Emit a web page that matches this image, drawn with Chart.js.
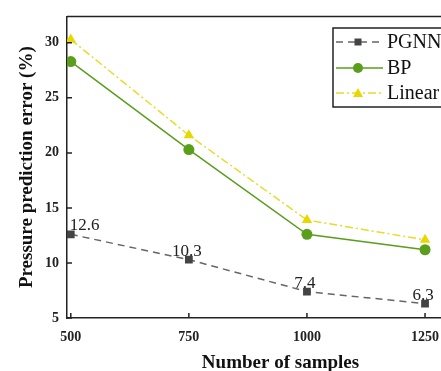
<!DOCTYPE html>
<html>
<head>
<meta charset="utf-8">
<script src="https://cdn.jsdelivr.net/npm/chart.js@4/dist/chart.umd.min.js"></script>
<style>
  html, body { margin: 0; padding: 0; background: #fff; overflow: hidden; }
  #wrap { width: 500px; height: 371px; }
</style>
</head>
<body>
<div id="wrap"><canvas id="grafik" width="500" height="371"></canvas></div>
<script>
// data
const sampleSizes = [500, 750, 1000, 1250];
const pgnnErr = [12.6, 10.3, 7.4, 6.3];
const bpErr = [28.3, 20.3, 12.6, 11.2];
const linearErr = [30.3, 21.6, 13.9, 12.1];
const yTickValues = [5, 10, 15, 20, 25, 30];
const seriesNames = ['PGNN', 'BP', 'Linear'];

const FONT = "'Liberation Serif', 'Times New Roman', serif";

function toPoints(values) {
    return sampleSizes.map((x, i) => ({ x: x, y: values[i] }));
}

// ticks inward, top frame, value labels, legend box
const extras = {
    id: 'extras',
    afterDraw(chart) {
        const ctx = chart.ctx;
        const area = chart.chartArea;
        const xs = chart.scales.x;
        const ys = chart.scales.y;
        ctx.save();
        ctx.strokeStyle = '#222';
        ctx.lineWidth = 1.5;
        ctx.beginPath();
        ctx.moveTo(area.left, area.top);
        ctx.lineTo(area.right, area.top);
        sampleSizes.forEach(v => {
            const px = xs.getPixelForValue(v);
            ctx.moveTo(px, area.bottom);
            ctx.lineTo(px, area.bottom - 5);
        });
        yTickValues.forEach(v => {
            const py = ys.getPixelForValue(v);
            ctx.moveTo(area.left, py);
            ctx.lineTo(area.left + 5, py);
        });
        ctx.stroke();

        // PGNN value labels
        const meta = chart.getDatasetMeta(0);
        ctx.font = '17px ' + FONT;
        ctx.fillStyle = '#222';
        ctx.textBaseline = 'alphabetic';
        meta.data.forEach((pt, i) => {
            ctx.textAlign = i === 0 ? 'left' : 'center';
            const px = i === 0 ? pt.x - 1 : pt.x - 2;
            ctx.fillText(String(pgnnErr[i]), px, pt.y - 4);
        });

        // legend
        const lx = 333, ly = 28, lw = 140, lh = 79;
        ctx.lineWidth = 1.5;
        ctx.strokeStyle = '#222';
        ctx.strokeRect(lx, ly, lw, lh);
        const rows = [42, 68, 93];
        chart.data.datasets.forEach((ds, i) => {
            const y = rows[i];
            ctx.save();
            ctx.strokeStyle = ds.borderColor;
            ctx.lineWidth = 1.5;
            ctx.setLineDash(ds.borderDash || []);
            ctx.beginPath();
            ctx.moveTo(lx + 3, y);
            ctx.lineTo(lx + 50, y);
            ctx.stroke();
            ctx.restore();
            const mx = lx + 25;
            ctx.fillStyle = ds.pointBackgroundColor;
            ctx.beginPath();
            if (ds.pointStyle === 'rect') {
                ctx.rect(mx - 3.5, y - 3.5, 7, 7);
            } else if (ds.pointStyle === 'circle') {
                ctx.arc(mx, y, 5, 0, Math.PI * 2);
            } else {
                ctx.moveTo(mx, y - 5);
                ctx.lineTo(mx + 5, y + 4);
                ctx.lineTo(mx - 5, y + 4);
                ctx.closePath();
            }
            ctx.fill();
            ctx.fillStyle = '#111';
            ctx.font = '20px ' + FONT;
            ctx.textAlign = 'left';
            ctx.textBaseline = 'middle';
            ctx.fillText(seriesNames[i], lx + 54, y + 1);
        });
        ctx.restore();
    }
};

new Chart(document.getElementById('grafik'), {
    type: 'line',
    data: {
        datasets: [{
            label: seriesNames[0],
            data: toPoints(pgnnErr),
            borderColor: '#666',
            borderWidth: 1.5,
            borderDash: [7, 5],
            pointStyle: 'rect',
            pointRadius: 5.5,
            pointBackgroundColor: '#444',
            pointBorderColor: '#444',
            pointBorderWidth: 0
        }, {
            label: seriesNames[1],
            data: toPoints(bpErr),
            borderColor: '#5a9e1c',
            borderWidth: 1.5,
            pointStyle: 'circle',
            pointRadius: 5.5,
            pointBackgroundColor: '#5a9e1c',
            pointBorderColor: '#5a9e1c',
            pointBorderWidth: 0
        }, {
            label: seriesNames[2],
            data: toPoints(linearErr),
            borderColor: '#e6dc2a',
            borderWidth: 1.5,
            borderDash: [8, 3, 2, 3],
            pointStyle: 'triangle',
            pointRadius: 6,
            pointBackgroundColor: '#e6d800',
            pointBorderColor: '#e6d800',
            pointBorderWidth: 0
        }]
    },
    options: {
        responsive: false,
        animation: false,
        layout: { padding: { top: 14, right: 1, left: 0, bottom: 0 } },
        plugins: {
            legend: { display: false },
            tooltip: { enabled: false }
        },
        scales: {
            x: {
                type: 'linear',
                min: 492,
                max: 1396,
                afterBuildTicks: s => { s.ticks = sampleSizes.map(v => ({ value: v })); },
                afterFit: s => { s.height = 53; },
                grid: { display: false, drawTicks: false },
                border: { display: true, color: '#222', width: 1.5 },
                ticks: {
                    padding: 11,
                    color: '#222',
                    font: { family: FONT, size: 14, weight: 'bold' },
                    maxRotation: 0,
                    callback: v => String(v)
                },
                title: {
                    display: true,
                    text: 'Number of samples',
                    color: '#111',
                    font: { family: FONT, size: 19, weight: 'bold' },
                    padding: { top: 0, bottom: -3 }
                }
            },
            y: {
                min: 5,
                max: 32.4,
                afterBuildTicks: s => { s.ticks = yTickValues.map(v => ({ value: v })); },
                afterFit: s => { s.width = 67; },
                grid: { display: false, drawTicks: false },
                border: { display: true, color: '#222', width: 1.5 },
                ticks: {
                    padding: 8,
                    color: '#222',
                    font: { family: FONT, size: 14, weight: 'bold' }
                },
                title: {
                    display: true,
                    text: 'Pressure prediction error (%)',
                    color: '#111',
                    font: { family: FONT, size: 19, weight: 'bold' },
                    padding: { top: 16, bottom: 0 }
                }
            }
        }
    },
    plugins: [extras]
});
</script>
</body>
</html>
